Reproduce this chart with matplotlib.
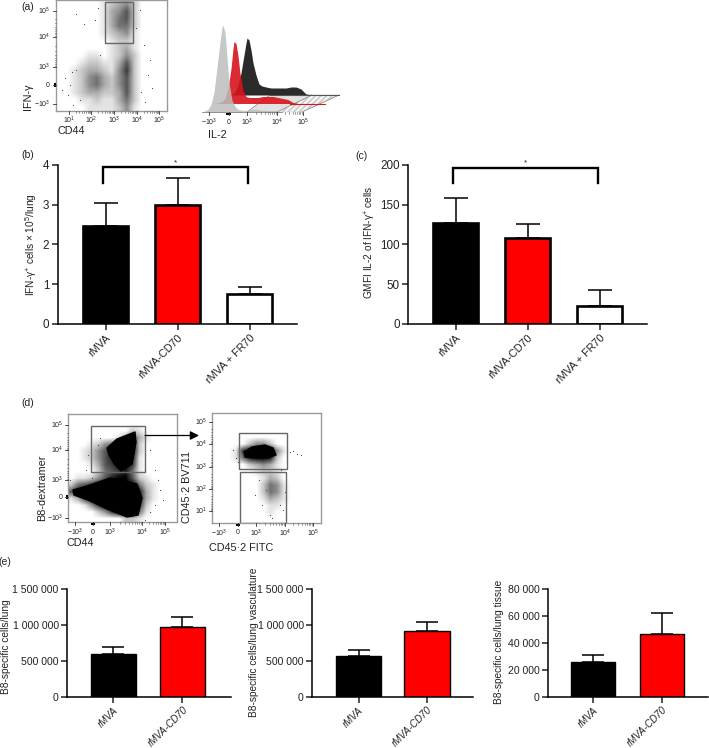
import numpy as np
import matplotlib
matplotlib.use("Agg")
import matplotlib.pyplot as plt
from matplotlib.patches import Rectangle, Polygon

plt.rcParams['font.family'] = ['Liberation Sans', 'DejaVu Sans']
plt.rcParams['mathtext.default'] = 'regular'

W, H = 709, 748

groups3 = ["rMVA", "rMVA-CD70", "rMVA + FR70"]
groups2 = ["rMVA", "rMVA-CD70"]

b_vals = [2.45, 3.0, 0.75]
b_tops = [3.05, 3.66, 0.93]
c_vals = [127, 108, 23]
c_tops = [158, 125, 43]

e1_vals = [600000, 970000]
e1_tops = [690000, 1120000]
e2_vals = [570000, 915000]
e2_tops = [650000, 1050000]
e3_vals = [26000, 47000]
e3_tops = [31000, 62000]

# density, 0 = white, 9 = black
dens_a = ["000000123420000",
          "000000134620000",
          "000000135620000",
          "000000135520000",
          "000000123410000",
          "000000012210000",
          "000000012310000",
          "000011012420000",
          "000122113620000",
          "001233214720000",
          "001245324620000",
          "001245324620000",
          "001233223620000",
          "000112113520000",
          "000011112410000"]
dens_d1 = ["0000000000000000",
           "0000000000000000",
           "0000000002100000",
           "0000000136310000",
           "0001245799200000",
           "0012468999200000",
           "0012468998100000",
           "0001367897100000",
           "0000256785100000",
           "0112468996210000",
           "2567899999521000",
           "6899999999831000",
           "1379999999831000",
           "0014799999720000",
           "0000247999510000",
           "0000000022100000"]
dens_d2 = ["0000000000000000",
           "0000000000000000",
           "0000000000000000",
           "0000000000000000",
           "0000024420000000",
           "0001799994100000",
           "0001589982000000",
           "0000023431000000",
           "0000001221000000",
           "0000000132000000",
           "0000000254100000",
           "0000000254100000",
           "0000000132100000",
           "0000000011000000",
           "0000000010000000",
           "0000000000000000"]

# solid black cores of the dense clouds
core_d1_upper = [(107, 448), (117, 439), (135, 432), (136, 442), (132, 464), (121, 471), (115, 465), (109, 455)]
core_d1_lower = [(73, 490), (87, 486), (110, 478), (137, 484), (142, 498), (138, 515), (127, 517), (107, 509), (88, 500), (74, 495)]
core_d2 = [(244, 452), (252, 447), (265, 445), (273, 448), (276, 455), (268, 458), (255, 458), (245, 457)]

# stray events outside the clouds
stray_x = [76, 84, 70, 68, 72, 76, 73, 80, 150, 148, 144, 141, 152, 100, 95, 98, 140, 136, 145, 62, 65,
           150, 155, 160, 155, 150, 145, 98, 100, 88, 86, 92, 158, 163, 70,
           290, 293, 297, 301, 233, 236, 238, 281, 285, 283, 262, 270, 255, 259, 280, 272, 266]
stray_y = [14, 24, 85, 95, 72, 70, 105, 100, 60, 75, 45, 92, 88, 55, 20, 8, 10, 28, 102, 90, 78,
           450, 470, 490, 505, 512, 520, 445, 438, 455, 470, 478, 480, 500, 480,
           452, 451, 454, 455, 450, 458, 462, 470, 492, 510, 505, 515, 495, 480, 505, 518, 490]

# histogram overlays, heights against channel position
hist_pos = [0, 6, 9, 12, 15, 18, 20, 21, 23, 25, 27, 30, 33, 36, 40, 45, 50, 55, 60, 65, 70, 75, 80, 85, 90]
hist_gray = [0, 3, 8, 20, 45, 70, 85, 87, 80, 55, 30, 12, 6, 3, 2, 2, 3, 3, 2, 2, 1, 1, 0, 0, 0]
hist_red = [0, 1, 2, 5, 15, 35, 55, 62, 60, 48, 30, 13, 7, 6, 6, 6, 7, 7, 7, 6, 5, 4, 1, 0, 0]
hist_black = [0, 1, 3, 10, 22, 40, 52, 57, 55, 45, 32, 20, 11, 9, 8, 7, 7, 7, 7, 8, 8, 6, 1, 0, 0]

ticks_a_x = [(69, "$10^1$"), (91, "$10^2$"), (114, "$10^3$"), (137, "$10^4$"), (159, "$10^5$")]
ticks_a_y = [(11, "$10^5$"), (37, "$10^4$"), (67, "$10^3$"), (85, "0"), (104, "$-10^3$")]
ticks_d1_x = [(75, "$-10^3$"), (93, "0"), (110, "$10^3$"), (142, "$10^4$"), (165, "$10^5$")]
ticks_d1_y = [(425, "$10^5$"), (450, "$10^4$"), (480, "$10^3$"), (497, "0"), (518, "$-10^3$")]
ticks_d2_x = [(219, "$-10^3$"), (238, "0"), (256, "$10^3$"), (285, "$10^4$"), (313, "$10^5$")]
ticks_d2_y = [(422, "$10^5$"), (444, "$10^4$"), (467, "$10^3$"), (489, "$10^2$"), (511, "$10^1$")]
ticks_hist = [(209, "$-10^3$"), (229, "0"), (247, "$10^3$"), (277, "$10^4$"), (303, "$10^5$")]

fig = plt.figure(figsize=(W / 100, H / 100), dpi=100)


def add_ax(l, t, r, b):
    return fig.add_axes([l / W, 1 - b / H, (r - l) / W, (b - t) / H])


def bar_panel(box, x0, step, width, vals, tops, names, ymax, yticks, ylabels, fs, style, edge, cap):
    l, t, r, b = box
    ax = add_ax(l, t, r, b)
    ax.patch.set_alpha(0)
    colors = ["black", "red", "white"]
    xs = np.arange(len(vals))
    errs = np.array(tops) - np.array(vals)
    ax.errorbar(xs, vals, yerr=[np.zeros(len(vals)), errs], fmt='none', ecolor='black',
                elinewidth=1.1, capsize=cap, capthick=1.1, zorder=1)
    ax.bar(xs, vals, width=width, color=colors[:len(vals)], edgecolor='black', linewidth=edge, zorder=2)
    ax.set_xlim((l - x0) / step, (r - x0) / step)
    ax.set_ylim(0, ymax)
    for s in ['top', 'right']:
        ax.spines[s].set_visible(False)
    for s in ['left', 'bottom']:
        ax.spines[s].set_linewidth(1.1)
    ax.set_xticks(xs)
    ax.set_xticklabels(names, rotation=45, ha='right', rotation_mode='anchor', fontsize=fs - 0.6, style=style)
    ax.set_yticks(yticks)
    ax.set_yticklabels(ylabels, fontsize=fs)
    ax.tick_params(length=4, width=1.1, pad=2, colors='#222222')
    return ax


ax_b = bar_panel((57.7, 164.7, 297, 324), 105.5, 72, 0.63, b_vals, b_tops, groups3, 4,
                 [0, 1, 2, 3, 4], ["0", "1", "2", "3", "4"], 8.4, 'normal', 1.9, 8.6)
ax_c = bar_panel((408, 164.7, 647, 324), 455.5, 72, 0.63, c_vals, c_tops, groups3, 200,
                 [0, 50, 100, 150, 200], ["0", "50", "100", "150", "200"], 8.4, 'normal', 1.9, 8.6)
for ax, top, low in [(ax_b, 3.93, 3.55), (ax_c, 196, 177)]:
    ax.plot([-0.035, -0.035, 1.98, 1.98], [low, top, top, low], color='black', lw=1.7,
            solid_joinstyle='miter', clip_on=False)

e_ticks = [0, 500000, 1000000, 1500000]
e_labels = ["0", "500 000", "1 000 000", "1 500 000"]
bar_panel((67, 589.3, 230.6, 696.7), 113.5, 69, 0.66, e1_vals, e1_tops, groups2, 1500000, e_ticks, e_labels, 7.6, 'italic', 1.0, 7.6)
bar_panel((312, 589.3, 473, 696.7), 358.5, 68.5, 0.66, e2_vals, e2_tops, groups2, 1500000, e_ticks, e_labels, 7.6, 'italic', 1.0, 7.6)
bar_panel((548, 589.3, 708, 696.7), 593, 69, 0.64, e3_vals, e3_tops, groups2, 80000,
          [0, 20000, 40000, 60000, 80000], ["0", "20 000", "40 000", "60 000", "80 000"], 7.6, 'italic', 1.0, 7.6)


def flow_panel(box, rows, gates, cores):
    l, t, r, b = box
    ax = add_ax(l, t, r, b)
    grid = np.array([[int(c) for c in row] for row in rows])
    ax.imshow(grid, cmap='gray_r', vmin=0, vmax=9, extent=(l, r, b, t), aspect='auto', interpolation='bilinear')
    for core in cores:
        ax.add_patch(Polygon(core, fc='black', ec='black', lw=1.0, joinstyle='round'))
    ax.scatter(stray_x, stray_y, s=0.7, color='#444444', linewidths=0)
    ax.set_xlim(l, r)
    ax.set_ylim(b, t)
    ax.set_xticks([])
    ax.set_yticks([])
    for s in ax.spines.values():
        s.set_color('#9a9a9a')
        s.set_linewidth(1.0)
    for gl, gt, gr, gb in gates:
        ax.add_patch(Rectangle((gl, gt), gr - gl, gb - gt, fill=False, ec='#666666', lw=1.0))
    return ax


flow_panel((56, 0, 167, 111), dens_a, [(105, 2, 133, 43)], [])
flow_panel((68, 414, 177, 522), dens_d1, [(91, 426, 145, 472)], [core_d1_upper, core_d1_lower])
flow_panel((212, 413, 321, 523), dens_d2, [(239, 433, 287, 469), (240, 472, 286, 523)], [core_d2])

# everything else sits on a pixel sized overlay
ov = fig.add_axes([0, 0, 1, 1], zorder=10)
ov.set_xlim(0, W)
ov.set_ylim(H, 0)
ov.axis('off')


def minor_between(ticks):
    out = []
    for (a, sa), (c, sc) in zip(ticks[:-1], ticks[1:]):
        if sa.startswith("$10") and sc.startswith("$10"):
            out += [a + (c - a) * np.log10(k) for k in range(2, 10)]
    return out


def flow_ticks(xticks, yticks, xedge, yedge, xlab_y, ylab_x):
    for x, s in xticks:
        ov.plot([x, x], [yedge, yedge + 3], color='#333333', lw=0.6)
        ov.text(x, xlab_y, s, fontsize=5, ha='center', va='center', color='#222222')
    for y, s in yticks:
        ov.plot([xedge - 3, xedge], [y, y], color='#333333', lw=0.6)
        ov.text(ylab_x, y, s, fontsize=5, ha='right', va='center', color='#222222')
    for x in minor_between(xticks):
        ov.plot([x, x], [yedge, yedge + 1.5], color='#555555', lw=0.4)
    for y in minor_between(yticks):
        ov.plot([xedge - 1.5, xedge], [y, y], color='#555555', lw=0.4)


flow_ticks(ticks_a_x, ticks_a_y, 56, 111, 120, 50)
flow_ticks(ticks_d1_x, ticks_d1_y, 68, 522, 532, 63)
flow_ticks(ticks_d2_x, ticks_d2_y, 212, 523, 533, 207)

# tick clusters around zero
for x, y, w, h in [(53.5, 83, 2, 4), (65.5, 495, 2, 4), (91, 523, 4, 2), (236, 524, 4, 2), (226, 113, 5, 2)]:
    ov.add_patch(Rectangle((x, y), w, h, fc='black', ec='none'))

# histogram floor
ov.add_patch(Polygon([(277, 112), (302, 112), (339, 95), (312, 95)], fc='#f6f6f6', ec='#c4c4c4', lw=0.4, hatch='//////'))
ov.add_patch(Polygon([(247, 112), (277, 112), (312, 95), (270, 95)], fc='#e2e2e2', ec='#888888', lw=0.5))
ov.plot([302, 339], [112, 95], color='#888888', lw=0.5)
ov.plot([270, 339], [95, 95], color='#555555', lw=0.8)

hist_x = np.array(hist_pos)
for offs, base, vals, col, alpha in [(226, 95, hist_black, '#2b2b2b', 1.0),
                                     (213, 103.5, hist_red, '#d8141c', 0.9),
                                     (202, 112.3, hist_gray, '#bdbdbd', 0.85)]:
    ov.fill_between(hist_x + offs, base, base - np.array(vals), color=col, alpha=alpha, lw=0)
ov.plot([290, 325], [103.5, 103.5], color='#d8141c', lw=0.8)
ov.plot([202, 282], [112.3, 112.3], color='#888888', lw=0.6)
for x, s in ticks_hist:
    ov.plot([x, x], [112, 115], color='#333333', lw=0.6)
    ov.text(x, 122, s, fontsize=5, ha='center', va='center', color='#222222')
for x in minor_between(ticks_hist):
    ov.plot([x, x], [112, 113.5], color='#555555', lw=0.4)

ov.annotate("", xy=(199, 435.5), xytext=(145, 435.5),
            arrowprops=dict(arrowstyle='-|>', color='black', lw=0.9, mutation_scale=13, shrinkA=0, shrinkB=0))

texts = [
    (28, 7, "(a)", 0, 7.5), (28, 155, "(b)", 0, 7.5), (362, 156, "(c)", 0, 7.5),
    (28, 403, "(d)", 0, 7.5), (5, 562, "(e)", 0, 7.5),
    (71, 131, "CD44", 0, 7.8), (28, 97, "IFN-γ", 90, 7.8), (217, 135, "IL-2", 0, 7.8),
    (80, 543, "CD44", 0, 7.8), (42, 488, "B8-dextramer", 90, 7.8),
    (241, 548, "CD45·2 FITC", 0, 7.8), (187, 487, "CD45·2 BV711", 90, 7.8),
    (176, 163, "*", 0, 6), (526, 163, "*", 0, 6),
    (31, 245, "IFN-γ$^{+}$ cells × 10$^{5}$/lung", 90, 7.3),
    (370, 242, "GMFI IL-2 of IFN-γ$^{+}$ cells", 90, 7.3),
    (6, 647, "B8-specific cells/lung", 90, 7.3),
    (254, 642, "B8-specific cells/lung vasculature", 90, 7.3),
    (499, 642, "B8-specific cells/lung tissue", 90, 7.3),
]
for x, y, s, rot, fs in texts:
    ov.text(x, y, s, rotation=rot, fontsize=fs, ha='center', va='center', color='#222222')

fig.savefig("out.png", dpi=100)
